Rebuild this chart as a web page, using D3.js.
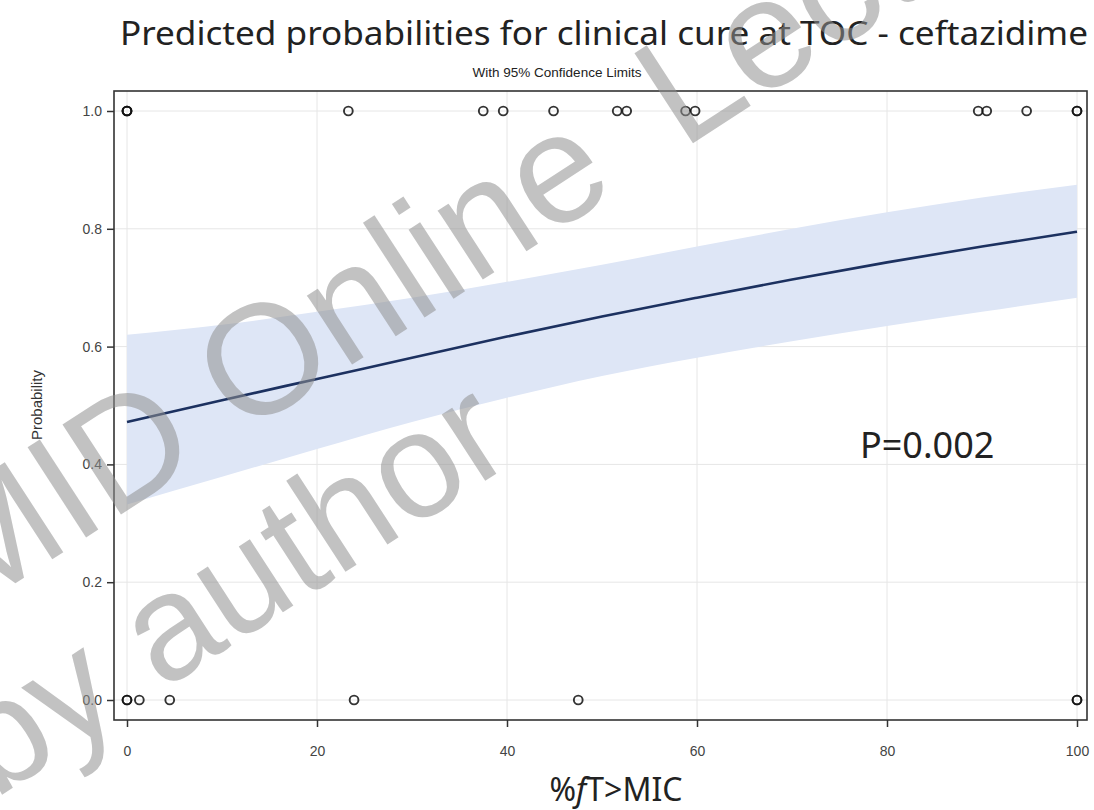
<!DOCTYPE html>
<html>
<head>
<meta charset="utf-8">
<script src="https://cdn.jsdelivr.net/npm/d3@7"></script>
<style>
  html, body { margin: 0; padding: 0; background: #fff; }
  svg { display: block; }
</style>
</head>
<body>
<svg id="chart" width="1094" height="810"></svg>
<script>
// Observed outcomes: %fT>MIC for patients cured (1) and not cured (0)
const curedX = [0, 0, 0, 23.3, 37.5, 39.6, 44.9, 51.6, 52.6, 58.8, 59.8, 89.6, 90.5, 94.7, 100, 100];
const failedX = [0, 0, 1.3, 4.5, 23.9, 47.5, 100, 100];

// Fitted logistic curve and 95% confidence limits
const gridX    = [0, 10, 20, 30, 40, 50, 60, 70, 80, 90, 100];
const predProb = [0.472, 0.509, 0.545, 0.581, 0.617, 0.651, 0.683, 0.714, 0.743, 0.770, 0.795];
const lowerCL  = [0.332, 0.379, 0.426, 0.472, 0.513, 0.550, 0.581, 0.609, 0.635, 0.659, 0.683];
const upperCL  = [0.620, 0.637, 0.659, 0.683, 0.710, 0.739, 0.770, 0.800, 0.828, 0.853, 0.875];

const xTicks = [0, 20, 40, 60, 80, 100];
const yTicks = [0, 0.2, 0.4, 0.6, 0.8, 1.0];

const svg = d3.select("#chart");
const frame = { left: 114, right: 1087, top: 91, bottom: 720 };

const x = d3.scaleLinear().domain([0, 100]).range([127, 1077]);
const y = d3.scaleLinear().domain([0, 1]).range([700, 111]);

// grid lines
const grid = svg.append("g");
grid.selectAll("line.vx").data(xTicks).join("line")
  .attr("x1", d => x(d)).attr("x2", d => x(d))
  .attr("y1", frame.top).attr("y2", frame.bottom)
  .attr("stroke", "#e6e6e6").attr("stroke-width", 1);
grid.selectAll("line.hy").data(yTicks).join("line")
  .attr("x1", frame.left).attr("x2", frame.right)
  .attr("y1", d => y(d)).attr("y2", d => y(d))
  .attr("stroke", "#e6e6e6").attr("stroke-width", 1);

// confidence band
const bandData = gridX.map((v, i) => ({ x: v, lo: lowerCL[i], hi: upperCL[i] }));
svg.append("path")
  .datum(bandData)
  .attr("d", d3.area().x(d => x(d.x)).y0(d => y(d.lo)).y1(d => y(d.hi)).curve(d3.curveMonotoneX))
  .attr("fill", "#dee6f6");

// fitted curve
const lineData = gridX.map((v, i) => ({ x: v, p: predProb[i] }));
svg.append("path")
  .datum(lineData)
  .attr("d", d3.line().x(d => x(d.x)).y(d => y(d.p)).curve(d3.curveMonotoneX))
  .attr("fill", "none").attr("stroke", "#1c3160").attr("stroke-width", 2.6);

// observed points
const pts = curedX.map(v => ({ x: v, y: 1 })).concat(failedX.map(v => ({ x: v, y: 0 })));
svg.append("g").selectAll("circle").data(pts).join("circle")
  .attr("cx", d => x(d.x)).attr("cy", d => y(d.y)).attr("r", 4.4)
  .attr("fill", "none").attr("stroke", "#111").attr("stroke-width", 1.9)
  .attr("stroke-opacity", 0.85);

// frame
svg.append("rect")
  .attr("x", frame.left).attr("y", frame.top)
  .attr("width", frame.right - frame.left).attr("height", frame.bottom - frame.top)
  .attr("fill", "none").attr("stroke", "#333").attr("stroke-width", 1.6);

// axes
const xAxis = d3.axisBottom(x).tickValues(xTicks).tickFormat(d3.format("d")).tickSize(7).tickPadding(19);
const gx = svg.append("g").attr("transform", `translate(0,${frame.bottom})`).call(xAxis);
gx.select(".domain").remove();
gx.selectAll("line").attr("stroke", "#333").attr("stroke-width", 1.5);
gx.selectAll("text").attr("font-family", "Liberation Sans, Arial, sans-serif")
  .attr("font-size", 14).attr("fill", "#444");

const yAxis = d3.axisLeft(y).tickValues(yTicks).tickFormat(d3.format(".1f")).tickSize(7).tickPadding(5);
const gy = svg.append("g").attr("transform", `translate(${frame.left},0)`).call(yAxis);
gy.select(".domain").remove();
gy.selectAll("line").attr("stroke", "#333").attr("stroke-width", 1.5);
gy.selectAll("text").attr("font-family", "Liberation Sans, Arial, sans-serif")
  .attr("font-size", 14).attr("fill", "#444");

// axis titles
svg.append("text")
  .attr("transform", "translate(42,405) rotate(-90)")
  .attr("text-anchor", "middle")
  .attr("font-family", "Liberation Sans, Arial, sans-serif").attr("font-size", 15).attr("fill", "#333")
  .text("Probability");

const xt = svg.append("text")
  .attr("x", 616).attr("y", 801)
  .attr("text-anchor", "middle")
  .attr("font-family", "Noto Sans, Open Sans, sans-serif").attr("font-size", 32).attr("fill", "#222");
xt.append("tspan").text("%");
xt.append("tspan").attr("font-style", "italic").text("f");
xt.append("tspan").text("T>MIC");

// titles
svg.append("text")
  .attr("x", 120).attr("y", 45)
  .attr("textLength", 968).attr("lengthAdjust", "spacingAndGlyphs")
  .attr("font-family", "Noto Sans, Open Sans, sans-serif").attr("font-size", 32).attr("fill", "#222")
  .text("Predicted probabilities for clinical cure at TOC - ceftazidime");

svg.append("text")
  .attr("x", 557).attr("y", 77)
  .attr("text-anchor", "middle")
  .attr("font-family", "Liberation Sans, Arial, sans-serif").attr("font-size", 13.5).attr("fill", "#222")
  .text("With 95% Confidence Limits");

// p-value annotation
svg.append("text")
  .attr("x", 860).attr("y", 458)
  .attr("font-family", "Noto Sans, Open Sans, sans-serif").attr("font-size", 36).attr("fill", "#222")
  .text("P=0.002");

// watermark
const wm = svg.append("g").attr("fill", "#909090").attr("fill-opacity", 0.55)
  .attr("font-family", "Liberation Sans, Arial, sans-serif").attr("font-size", 156);
const wm1 = wm.append("text").attr("transform", "translate(-35,616) rotate(-33)");
wm1.append("tspan").text("MID Online");
wm1.append("tspan").attr("dx", 75).text("Lecture");
wm.append("text").attr("transform", "translate(-6,800) rotate(-33)")
  .attr("font-size", 150).text("by author");
</script>
</body>
</html>
